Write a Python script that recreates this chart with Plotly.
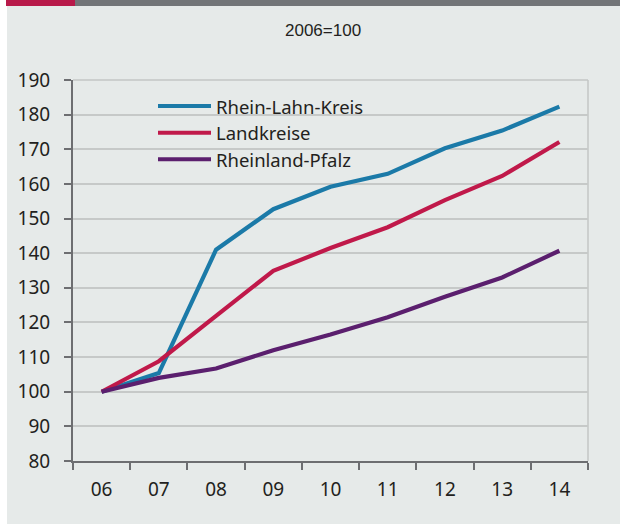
import plotly.graph_objects as go

# Index values, 2006 = 100
years = ["06", "07", "08", "09", "10", "11", "12", "13", "14"]
rhein_lahn_kreis = [100, 105.4, 141.0, 152.7, 159.2, 162.9, 170.3, 175.4, 182.3]
landkreise = [100, 108.8, 121.9, 134.9, 141.5, 147.5, 155.3, 162.3, 172.1]
rheinland_pfalz = [100, 104.0, 106.7, 112.0, 116.5, 121.5, 127.4, 133.0, 140.7]
series_names = ["Rhein-Lahn-Kreis", "Landkreise", "Rheinland-Pfalz"]
y_ticks = list(range(80, 191, 10))
subtitle = "2006=100"

W, H = 620, 524
ML, MR, MT, MB = 73, 32, 80, 63
PW, PH = W - ML - MR, H - MT - MB


def px_x(px):
    return (px - ML) / PW


def px_y(py):
    return (H - MB - py) / PH


colors = ["#1b7aa8", "#c0194a", "#5b1f6e"]
values = [rhein_lahn_kreis, landkreise, rheinland_pfalz]
text_color = "#231f20"
axis_color = "#6d6e71"
grid_color = "#c6c9c8"
panel_color = "#e6eae9"
font_family = "Noto Sans"

fig = go.Figure()
for name, vals, col in zip(series_names, values, colors):
    fig.add_trace(go.Scatter(
        x=years, y=vals, name=name, mode="lines",
        line=dict(color=col, width=4.2),
        showlegend=False, hoverinfo="skip",
    ))

shapes = [
    # panel background
    dict(type="rect", xref="paper", yref="paper", layer="below",
         x0=px_x(7), x1=px_x(W + 2), y0=px_y(H + 2), y1=px_y(6),
         fillcolor=panel_color, line=dict(width=0)),
    # header bar
    dict(type="rect", xref="paper", yref="paper", layer="above",
         x0=px_x(75), x1=px_x(W + 2), y0=px_y(6), y1=px_y(-2),
         fillcolor="#727578", line=dict(width=0)),
    dict(type="rect", xref="paper", yref="paper", layer="above",
         x0=px_x(6), x1=px_x(75), y0=px_y(6), y1=px_y(-2),
         fillcolor="#b81a4a", line=dict(width=0)),
    # light frame on top and right
    dict(type="line", xref="paper", yref="paper", layer="between",
         x0=1, x1=1, y0=0, y1=1, line=dict(color="#c3c6c5", width=1.5)),
    dict(type="line", xref="paper", yref="paper", layer="between",
         x0=0, x1=1, y0=1, y1=1, line=dict(color="#c3c6c5", width=1.5)),
]

annotations = [
    dict(text=subtitle, xref="paper", yref="paper",
         x=px_x(323), y=px_y(30), xanchor="center", yanchor="middle",
         showarrow=False,
         font=dict(family="Liberation Sans, Arial", size=17, color=text_color)),
]

# legend drawn inside the plot area
leg_y = [106, 132.7, 159.3]
for name, col, ly in zip(series_names, colors, leg_y):
    shapes.append(dict(type="line", xref="paper", yref="paper", layer="above",
                       x0=px_x(158), x1=px_x(211), y0=px_y(ly), y1=px_y(ly),
                       line=dict(color=col, width=4)))
    annotations.append(dict(text=name, xref="paper", yref="paper",
                            x=px_x(214), y=px_y(ly), xanchor="left",
                            yanchor="middle", showarrow=False,
                            font=dict(family=font_family, size=18.5,
                                      color=text_color)))

fig.update_layout(
    width=W, height=H,
    margin=dict(l=ML, r=MR, t=MT, b=MB, pad=0),
    paper_bgcolor="white",
    plot_bgcolor="rgba(0,0,0,0)",
    shapes=shapes,
    annotations=annotations,
    showlegend=False,
    xaxis=dict(
        type="category", tickson="boundaries",
        showgrid=False, zeroline=False,
        showline=True, linecolor=axis_color, linewidth=2,
        ticks="outside", ticklen=7, tickwidth=1.5, tickcolor=axis_color,
        tickfont=dict(family=font_family, size=19, color=text_color),
        ticklabelstandoff=10,
        range=[-0.5, len(years) - 0.5],
        fixedrange=True,
    ),
    yaxis=dict(
        range=[80, 190], tickvals=y_ticks,
        showgrid=True, gridcolor=grid_color, gridwidth=1.5,
        zeroline=False,
        showline=True, linecolor=axis_color, linewidth=2,
        ticks="outside", ticklen=7, tickwidth=1.5, tickcolor=axis_color,
        tickfont=dict(family=font_family, size=19, color=text_color),
        ticklabelstandoff=10,
        fixedrange=True,
    ),
)

fig.write_html("out.html")
